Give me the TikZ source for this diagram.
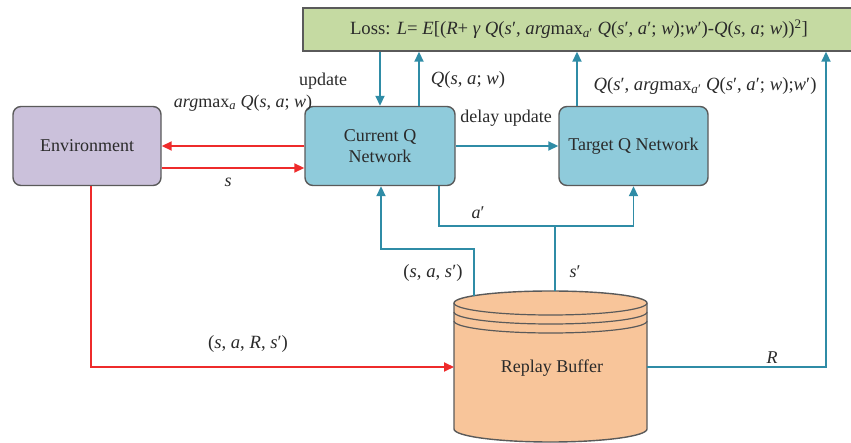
\documentclass[tikz,border=0pt]{standalone}
\usepackage{fontspec}
\setmainfont{Liberation Serif}
\usetikzlibrary{arrows.meta,calc}

\definecolor{envfill}{HTML}{CBC1DB}
\definecolor{qfill}{HTML}{8FCBDB}
\definecolor{lossfill}{HTML}{C5DAA2}
\definecolor{buffill}{HTML}{F8C59A}
\definecolor{edgegray}{HTML}{5A5A5A}
\definecolor{flowblue}{HTML}{2F8CA6}
\definecolor{flowred}{HTML}{EE2B2B}
\definecolor{inkgray}{HTML}{2A2A2A}

\newcommand{\prm}{′}
\newcommand{\mathsize}{\fontsize{18.7}{21}\selectfont}

\begin{document}
\begin{tikzpicture}[x=1pt,y=-1pt,
  font=\fontsize{18}{21}\selectfont, text=inkgray,
  netbox/.style={draw=edgegray, line width=1.4pt, rounded corners=8pt,
    minimum height=79pt, inner sep=0pt, align=center},
  lbl/.style={inner sep=0pt, anchor=center},
  flowtip/.style={-{Triangle[length=10pt,width=9pt]}},
  bluearrow/.style={draw=flowblue, line width=1.8pt, flowtip},
  blueline/.style={draw=flowblue, line width=1.8pt},
  redarrow/.style={draw=flowred, line width=1.8pt, flowtip}]

\useasboundingbox (0,0) rectangle (851,443);

% loss box (runs off the right edge)
\node[draw=edgegray, line width=1.4pt, fill=lossfill, minimum width=552pt,
  minimum height=43pt, inner sep=0pt, font=\mathsize] (loss) at (579,29.5)
  {Loss: \textit{L}= \textit{E}[(\textit{R}+ \textit{γ Q}(\textit{s}\prm, \textit{arg}max\textsubscript{\textit{a}\prm} \textit{Q}(\textit{s}\prm, \textit{a}\prm; \textit{w});\textit{w}\prm)-\textit{Q}(\textit{s}, \textit{a}; \textit{w}))\textsuperscript{2}]};

% networks and environment
\node[netbox, fill=envfill, minimum width=148pt] (env) at (87,146) {Environment};
\node[netbox, fill=qfill, minimum width=150pt] (cur) at (380,146) {Current Q\\Network};
\node[netbox, fill=qfill, minimum width=149pt] (tgt) at (633.5,146) {Target Q Network};

% replay buffer cylinder
\fill[buffill] (454,303) -- (454,429)
  arc[start angle=180, end angle=360, x radius=96.5pt, y radius=13pt]
  -- (647,303)
  arc[start angle=0, end angle=180, x radius=96.5pt, y radius=12pt] -- cycle;
\draw[edgegray, line width=1.4pt] (454,303) -- (454,429)
  arc[start angle=180, end angle=360, x radius=96.5pt, y radius=13pt]
  -- (647,303)
  arc[start angle=0, end angle=180, x radius=96.5pt, y radius=12pt];
\foreach \dy in {0,9,18}
  \draw[edgegray, line width=1.2pt] (454,303+\dy)
    arc[start angle=180, end angle=360, x radius=96.5pt, y radius=12pt];
\node[lbl] (buf) at (552,368) {Replay Buffer};
\coordinate (bufL) at (454,367);
\coordinate (bufR) at (647,367);
\coordinate (bufT1) at (474,296.5);
\coordinate (bufT2) at (555,291);
\coordinate (join) at (555,226);
\coordinate (back) at (474,249);

% connectors to and from the loss
\draw[bluearrow] (cur.north |- loss.south) -- (cur.north);
\draw[bluearrow] ([xshift=39pt]cur.north) -- ([xshift=39pt]cur.north |- loss.south);
\draw[bluearrow] ([xshift=-56.5pt]tgt.north) -- ([xshift=-56.5pt]tgt.north |- loss.south);
\draw[bluearrow] (bufR) -| ([xshift=247pt]loss.south);

% environment loop
\draw[redarrow] (cur.west) -- (env.east);
\draw[redarrow] ([yshift=-22pt]env.east) -- ([yshift=-22pt]cur.west);
\draw[redarrow] ([xshift=4pt]env.south) |- (bufL);

% networks
\draw[bluearrow] (cur.east) -- (tgt.west);
\draw[bluearrow] (bufT1) |- ([xshift=1pt]cur.south |- back) -- ([xshift=1pt]cur.south);
\draw[bluearrow] ([xshift=59pt]cur.south) |- (join) -| (tgt.south);
\draw[blueline] (bufT2) -- (join);

% labels
\node[lbl] (lupd) at (323,81) {update};
\node[lbl, font=\mathsize] (lqsa) at (468,80) {\textit{Q}(\textit{s}, \textit{a}; \textit{w})};
\node[lbl, font=\mathsize] (lqt) at (705,86) {\textit{Q}(\textit{s}\prm, \textit{arg}max\textsubscript{\textit{a}\prm} \textit{Q}(\textit{s}\prm, \textit{a}\prm; \textit{w});\textit{w}\prm)};
\node[lbl] (lact) at (243,103) {\textit{arg}max\textsubscript{\textit{a}} \textit{Q}(\textit{s}, \textit{a}; \textit{w})};
\node[lbl] (ls) at (228,182) {\textit{s}};
\node[lbl] (ldel) at (506,118) {delay update};
\node[lbl] (lap) at (478,213) {\textit{a}\prm};
\node[lbl, font=\mathsize] (lsas) at (433,273) {(\textit{s}, \textit{a}, \textit{s}\prm)};
\node[lbl] (lsp) at (575,272) {\textit{s}\prm};
\node[lbl, font=\mathsize] (lsars) at (248,344) {(\textit{s}, \textit{a}, \textit{R}, \textit{s}\prm)};
\node[lbl] (lr) at (772,358) {\textit{R}};

\end{tikzpicture}
\end{document}
